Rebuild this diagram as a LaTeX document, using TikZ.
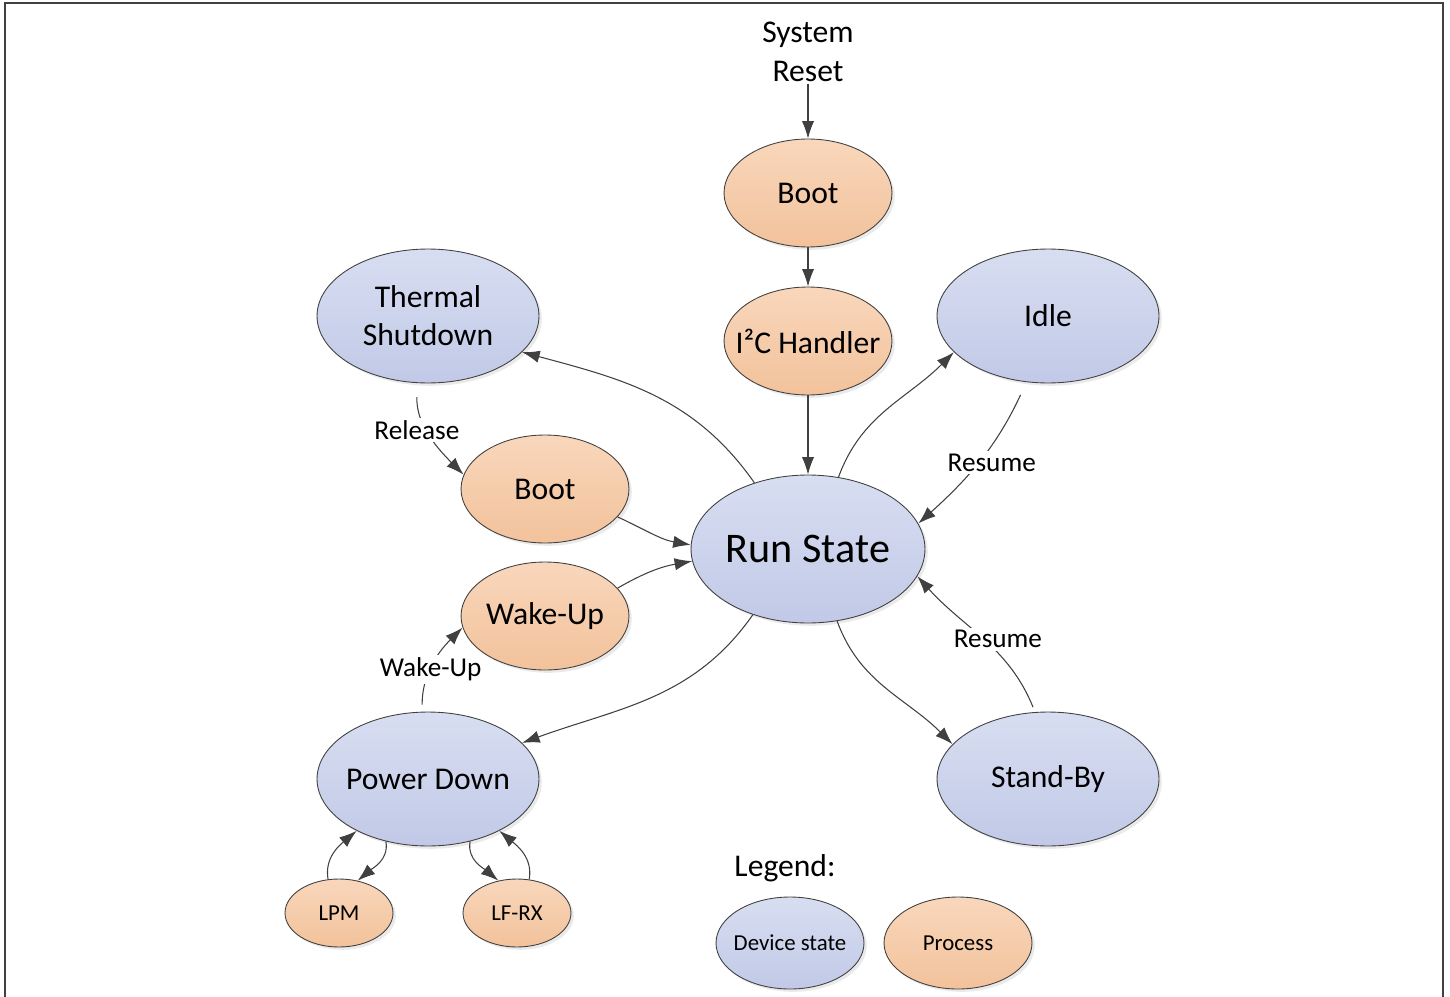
\documentclass[tikz,border=0pt]{standalone}
\usepackage{fontspec}
\setmainfont{Carlito}
\usetikzlibrary{shapes.geometric,arrows.meta,shadows}

\definecolor{statetop}{RGB}{216,222,241}
\definecolor{statebot}{RGB}{193,201,231}
\definecolor{proctop}{RGB}{249,215,188}
\definecolor{procbot}{RGB}{242,194,155}
\definecolor{linecol}{RGB}{64,64,64}

\tikzset{
  blob/.style={ellipse, draw=linecol, line width=0.5pt, inner xsep=-14pt, inner ysep=0pt,
    align=center, drop shadow={shadow xshift=1.6pt, shadow yshift=-1.6pt, fill=black!16}},
  devstate/.style={blob, top color=statetop, bottom color=statebot,
    minimum width=4.44cm, minimum height=2.68cm, font=\fontsize{18}{22.5}\selectfont},
  procnode/.style={blob, top color=proctop, bottom color=procbot,
    minimum width=3.36cm, minimum height=2.16cm, font=\fontsize{18}{22.5}\selectfont},
  small/.style={minimum width=2.16cm, minimum height=1.36cm, font=\fontsize{13}{16}\selectfont},
  key/.style={minimum width=2.96cm, minimum height=1.84cm, font=\fontsize{13}{16}\selectfont},
  edge/.style={draw=linecol, line width=0.6pt, -{Latex[length=10pt,width=7pt]}},
  lbl/.style={fill=white, inner sep=1.5pt, font=\fontsize{15.5}{18}\selectfont}
}

\begin{document}
\begin{tikzpicture}[x=0.02cm, y=-0.02cm]
  \useasboundingbox (0,0) rectangle (1450,997);
  \draw[linecol, line width=1.2pt] (5,997) -- (5,3) -- (1443,3) -- (1443,997);

  % nodes
  \node[align=center, font=\fontsize{18}{22.5}\selectfont, inner sep=1pt] (reset) at (808,52) {System\\Reset};
  \node[procnode] (boot) at (808,193) {Boot};
  \node[procnode] (i2c) at (808,341) {I²C Handler};
  \node[devstate] (therm) at (428,316) {Thermal\\[-1pt]Shutdown};
  \node[devstate] (idle) at (1048,316) {Idle};
  \node[procnode] (reboot) at (545,489) {Boot};
  \node[devstate, minimum width=4.68cm, minimum height=2.96cm, font=\fontsize{24}{28}\selectfont] (run) at (808,549) {Run State};
  \node[procnode] (wake) at (545,616) {Wake-Up};
  \node[devstate] (pdown) at (428,779) {Power Down};
  \node[devstate] (standby) at (1048,779) {Stand-By};
  \node[procnode, small] (lpm) at (339,913) {LPM};
  \node[procnode, small] (lfrx) at (517,913) {LF-RX};

  % legend
  \node[font=\fontsize{18}{22.5}\selectfont] (legend) at (785,868) {Legend:};
  \node[devstate, key] (keystate) at (790,943) {Device state};
  \node[procnode, key] (keyproc) at (958,943) {Process};

  % transitions
  \draw[edge] (reset) -- (boot);
  \draw[edge] (boot) -- (i2c);
  \draw[edge] (i2c) -- (run);
  \draw[edge] (run.129) to[out=125,in=-15] (therm.-21);
  \draw[edge] (run.67) to[out=70,in=225] (idle.201);
  \draw[edge, shorten <=8pt] (idle.-108) to[out=-115,in=42] node[lbl, pos=0.53, xshift=8pt] {Resume} (run.13);
  \draw[edge, shorten <=3pt] (standby.101) to[out=112,in=-48] node[lbl, pos=0.5, xshift=8pt] {Resume} (run.-14);
  \draw[edge] (run.-68) to[out=-70,in=135] (standby.160);
  \draw[edge] (run.230) to[out=-125,in=20] (pdown.21);
  \draw[edge, shorten <=8pt] (therm.-99) to[out=-92,in=135] node[lbl, pos=0.46, xshift=-6pt] {Release} (reboot.170);
  \draw[edge] (reboot.-21) to[out=-25,in=170] (run.178);
  \draw[edge] (wake.21) to[out=30,in=190] (run.186);
  \draw[edge, shorten <=4pt] (pdown.95) to[out=90,in=225] node[lbl, pos=0.45] {Wake-Up} (wake.188);

  % low power loops
  \draw[edge] (lpm.108) to[out=100,in=220] (pdown.216);
  \draw[edge] (pdown.236) to[out=-80,in=40] (lpm.60);
  \draw[edge] (pdown.304) to[out=-100,in=140] (lfrx.120);
  \draw[edge] (lfrx.70) to[out=80,in=-40] (pdown.-36);
\end{tikzpicture}
\end{document}
